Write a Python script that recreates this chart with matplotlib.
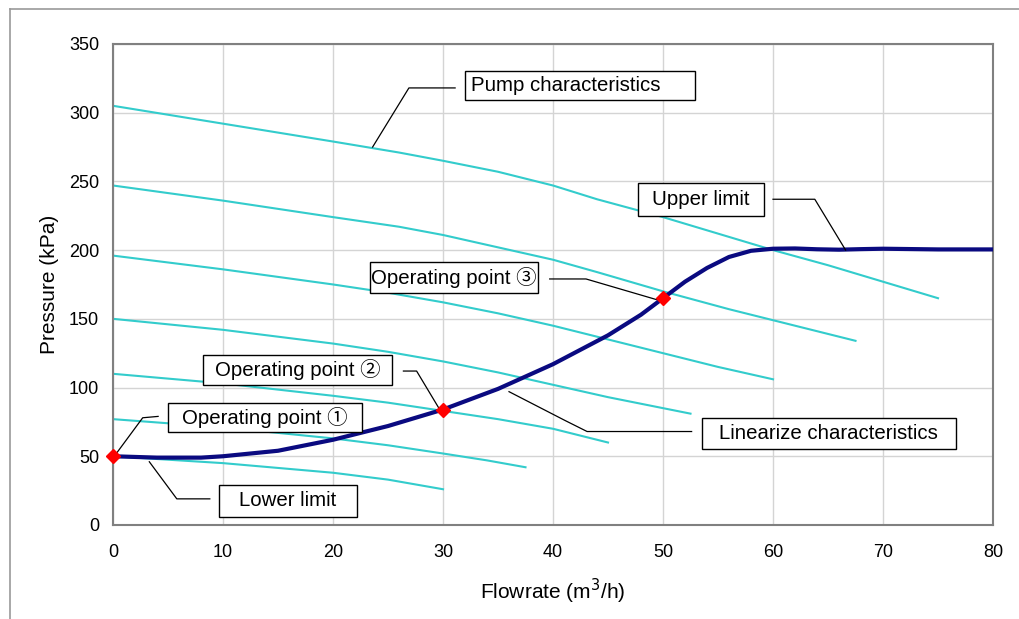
import numpy as np
import matplotlib.pyplot as plt
from matplotlib.patches import Rectangle

plt.rcParams['font.family'] = ['Liberation Sans', 'Noto Sans CJK JP', 'DejaVu Sans']

# pump characteristic curves (flowrate m3/h, pressure kPa)
pump_x = [
    [0, 10, 20, 26, 30, 35, 40, 44, 50, 55, 60, 65, 70, 75],
    [0, 10, 20, 26, 30, 35, 40, 44, 50, 56, 60, 64, 67.5],
    [0, 10, 20, 25, 30, 35, 40, 45, 50, 55, 60],
    [0, 10, 20, 25, 30, 35, 40, 45, 52.5],
    [0, 10, 20, 25, 30, 35, 40, 45],
    [0, 10, 20, 25, 30, 34, 37.5],
    [0, 10, 20, 25, 30],
]
pump_y = [
    [305, 292, 279, 271, 265, 257, 247, 237, 224, 212, 200, 189, 177, 165],
    [247, 236, 224, 217, 211, 202, 193, 184, 170, 157, 149, 141, 134],
    [196, 186, 175, 169, 162, 154, 145, 135, 125, 115, 106],
    [150, 142, 132, 126, 119, 111, 102, 93, 81],
    [110, 103, 94, 89, 83, 77, 70, 60],
    [77, 71, 63, 58, 52, 47, 42],
    [50, 45, 38, 33, 26],
]

# system (linearized) curve
sys_x = [0, 4, 8, 10, 15, 20, 25, 30, 35, 40, 45, 48, 50, 52, 54, 56, 58, 60, 62, 64, 66, 68, 70, 75, 80]
sys_y = [50, 49, 49, 50, 54, 62, 72, 84, 99, 117, 138, 153, 165, 177, 187, 195, 199.5, 201, 201.2, 200.6, 200.3, 200.7, 201, 200.5, 200.5]

# operating points
op_x = [0, 30, 50]
op_y = [50, 84, 165]

# callouts: label, box (x0, y0, x1, y1) in data units, leader polyline, text alignment
callouts = [
    ("Pump characteristics", (32.0, 309, 52.9, 330), [(31.1, 318), (26.9, 318), (23.6, 275)], 'left'),
    ("Upper limit", (47.7, 225, 59.2, 249), [(60.0, 237), (63.8, 237), (66.6, 200)], 'center'),
    ("Operating point \u2462", (23.4, 169, 38.6, 191), [(39.7, 179), (43.0, 179), (49.4, 164)], 'center'),
    ("Operating point \u2461", (8.2, 102, 25.4, 124), [(26.4, 112), (27.6, 112), (29.7, 84)], 'center'),
    ("Operating point \u2460", (5.0, 68, 22.6, 89), [(4.1, 79), (2.7, 78), (0.3, 52)], 'center'),
    ("Lower limit", (9.6, 6, 22.2, 29), [(8.8, 19), (5.8, 19), (3.3, 46)], 'center'),
    ("Linearize characteristics", (53.5, 55, 76.6, 78), [(52.6, 68), (43.1, 68), (41.1, 76), (36.0, 97)], 'center'),
]

fig = plt.figure(figsize=(10.19, 6.19), dpi=100)
ax = fig.add_axes([0.1109, 0.1519, 0.8636, 0.7771])

# outer frame of the picture
fig.add_artist(plt.Line2D([10 / 1019, 1.0], [1 - 9 / 619, 1 - 9 / 619], color='#999999', lw=1.2))
fig.add_artist(plt.Line2D([10 / 1019, 10 / 1019], [0, 1 - 9 / 619], color='#999999', lw=1.2))

for xs, ys in zip(pump_x, pump_y):
    ax.plot(xs, ys, color='#33cccc', lw=1.5, zorder=2)

ax.plot(sys_x, sys_y, color='#0a0a80', lw=3, zorder=3, solid_capstyle='butt')
ax.plot(op_x, op_y, 'D', color='#ff0000', ms=7, zorder=5, clip_on=False)

for label, (x0, y0, x1, y1), pts, ha in callouts:
    ax.add_patch(Rectangle((x0, y0), x1 - x0, y1 - y0, facecolor='white',
                           edgecolor='black', lw=1.0, zorder=6, clip_on=False))
    if ha == 'left':
        ax.text(x0 + 0.5, (y0 + y1) / 2, label, ha='left', va='center', fontsize=14.7, zorder=7)
    else:
        ax.text((x0 + x1) / 2, (y0 + y1) / 2, label, ha='center', va='center', fontsize=14.7, zorder=7)
    lx, ly = zip(*pts)
    ax.plot(lx, ly, color='black', lw=0.9, zorder=4, clip_on=False)

ax.set_xlim(0, 80)
ax.set_ylim(0, 350)
ax.set_xticks(np.arange(0, 81, 10))
ax.set_yticks(np.arange(0, 351, 50))
ax.grid(color='#d4d4d4', lw=1)
ax.set_axisbelow(True)
ax.tick_params(length=0, labelsize=13)
ax.tick_params(axis='x', pad=14)
ax.tick_params(axis='y', pad=10)
for s in ax.spines.values():
    s.set_color('#808080')
    s.set_linewidth(1.5)

ax.set_xlabel("Flowrate (m$^3$/h)", fontsize=15, labelpad=11)
ax.set_ylabel("Pressure (kPa)", fontsize=15, labelpad=7)

fig.savefig("out.png", dpi=100)
